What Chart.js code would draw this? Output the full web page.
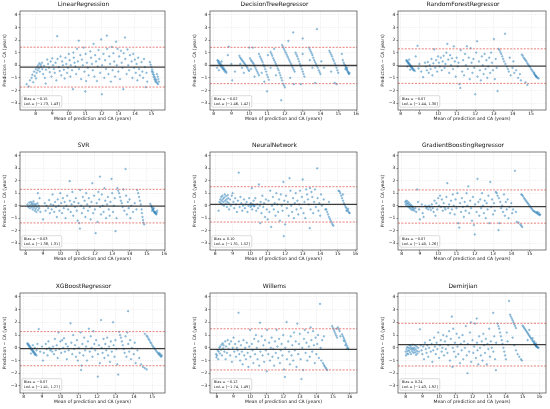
<!DOCTYPE html>
<html><head><meta charset="utf-8">
<script src="https://cdn.jsdelivr.net/npm/chart.js@4.4.0/dist/chart.umd.min.js"></script>
<style>
html,body{margin:0;padding:0;background:#fff;}
body{width:550px;height:409px;position:relative;overflow:hidden;}
canvas{position:absolute;}
</style></head><body>
<script>
// ---------- DATA ----------
const panelTitles = ["LinearRegression","DecisionTreeRegressor","RandomForestRegressor","SVR","NeuralNetwork","GradientBoostingRegressor","XGBoostRegressor","Willems","Demirjian"];
const biasValues = [-0.15,-0.02,-0.07,-0.03,0.10,-0.07,-0.07,-0.12,0.24];
const loaLower   = [-1.73,-1.46,-1.44,-1.38,-1.31,-1.40,-1.41,-1.74,-1.43];
const loaUpper   = [1.43,1.42,1.30,1.31,1.52,1.26,1.27,1.49,1.92];
const xMinValues = [7.05,7.8,7.85,7.67,7.71,7.8,7.8,7.58,7.54];
const xMaxValues = [15.82,16.05,15.8,16.05,16.1,15.9,15.7,16.45,16.4];
const yMinValue = -3.55, yMaxValue = 4.3;
const xAxisLabel = "Mean of prediction and CA (years)";
const yAxisLabel = "Prediction \u2212 CA (years)";

const ptsLinearRegression = [[7.45,-1.5],[7.58,-1.68],[7.65,-1.2],[7.75,-1.0],[7.8,-0.75],[7.85,-1.35],[7.9,-0.5],[7.95,-0.85],[8.0,-0.3],[8.02,-1.05],[8.05,-0.6],[8.1,-0.15],[8.12,-0.4],[8.15,0.0],[8.2,-0.25],[8.22,0.15],[8.25,-0.5],[8.3,0.05],[8.32,-0.1],[8.38,0.2],[8.4,-0.3],[8.45,-0.7],[8.5,-0.05],[8.55,-1.0],[8.6,-1.45],[8.62,-0.35],[8.7,0.45],[8.75,0.1],[8.8,-0.2],[8.85,-0.55],[8.9,0.3],[8.95,-0.9],[9.0,0.55],[9.05,0.0],[9.1,-0.3],[9.15,-0.6],[9.2,0.2],[9.25,-1.2],[9.3,2.3],[9.32,0.5],[9.4,-0.15],[9.45,-0.45],[9.5,0.7],[9.55,-0.8],[9.6,0.3],[9.65,0.0],[9.7,-0.35],[9.75,-1.05],[9.8,0.6],[9.85,0.1],[9.9,-0.6],[9.95,-0.2],[10.0,0.9],[10.05,0.4],[10.1,-0.9],[10.12,0.0],[10.2,-0.4],[10.25,-1.9],[10.28,1.0],[10.3,0.6],[10.35,0.2],[10.4,-0.1],[10.45,-0.7],[10.5,1.3],[10.55,0.3],[10.6,1.95],[10.62,-0.3],[10.7,0.8],[10.75,-1.1],[10.8,0.45],[10.85,0.0],[10.9,1.4],[10.95,-0.5],[11.0,-2.08],[11.02,0.9],[11.05,-1.25],[11.1,0.2],[11.15,-0.2],[11.2,-0.8],[11.3,1.1],[11.35,0.6],[11.4,0.1],[11.45,-0.4],[11.5,1.7],[11.55,-0.9],[11.6,0.8],[11.65,0.3],[11.7,-1.25],[11.75,-0.1],[11.8,1.2],[11.85,0.5],[11.9,-0.6],[11.96,2.05],[12.0,-2.3],[12.02,0.0],[12.1,0.9],[12.15,-1.0],[12.2,0.4],[12.25,-0.3],[12.3,2.35],[12.32,1.3],[12.4,-0.7],[12.45,0.7],[12.5,0.1],[12.55,-1.3],[12.6,1.45],[12.65,-0.4],[12.7,0.95],[12.75,0.3],[12.8,-0.9],[12.86,1.87],[12.9,0.0],[12.95,1.3],[13.0,-0.5],[13.05,0.7],[13.1,-1.1],[13.15,1.15],[13.2,0.2],[13.25,-0.2],[13.3,-1.9],[13.32,0.95],[13.4,2.2],[13.42,0.5],[13.5,-0.7],[13.55,1.25],[13.6,0.0],[13.65,-0.4],[13.7,0.8],[13.8,0.3],[13.85,-1.0],[13.9,0.9],[13.95,-0.2],[14.0,0.45],[14.05,-0.6],[14.1,0.1],[14.15,-1.2],[14.2,0.6],[14.25,-0.3],[14.3,-0.8],[14.4,0.25],[14.45,-0.5],[14.5,-1.0],[14.55,0.5],[14.6,-0.15],[14.66,-1.74],[14.7,-0.6],[14.75,-1.3],[14.9,0.25],[14.95,0.05],[15.0,-0.15],[15.02,-0.5],[15.05,-0.35],[15.08,-0.7],[15.1,-0.55],[15.13,-0.9],[15.15,-0.75],[15.18,-1.1],[15.2,-0.95],[15.23,-1.25],[15.25,-1.1],[15.28,-1.35],[15.3,-1.2],[15.33,-0.7],[15.35,-1.4],[15.38,-0.9],[15.4,-1.5],[15.42,-1.1],[15.45,-1.3]];

const ptsDecisionTree = [[8.2,-0.2],[8.22,0.4],[8.25,0.35],[8.27,0.2],[8.3,0.3],[8.32,0.1],[8.35,0.2],[8.37,0.0],[8.4,0.1],[8.42,-0.1],[8.45,0.0],[8.47,-0.2],[8.5,-0.1],[8.52,-0.3],[8.55,-0.2],[8.57,-0.35],[8.6,-0.3],[8.62,-0.5],[8.65,-0.4],[8.7,-0.5],[8.72,-0.6],[8.3,-0.4],[8.45,0.3],[8.8,0.8],[8.85,1.48],[9.05,-1.2],[9.0,0.1],[9.2,-0.5],[9.45,0.75],[9.5,0.6],[9.55,0.5],[9.6,0.4],[9.65,0.3],[9.7,0.2],[9.75,0.1],[9.8,0.0],[9.85,-0.1],[9.9,-0.2],[9.95,-0.35],[10.0,-0.45],[9.6,-0.2],[9.7,-0.6],[9.5,0.1],[10.0,1.4],[10.05,0.55],[10.1,0.4],[10.15,0.3],[10.2,0.2],[10.25,0.1],[10.3,-0.05],[10.35,-0.2],[10.4,-0.35],[10.45,-0.5],[10.5,-0.65],[10.55,-0.8],[10.2,1.4],[10.3,-0.9],[10.1,-0.3],[10.55,0.9],[10.6,0.7],[10.65,0.55],[10.7,0.4],[10.75,0.25],[10.8,0.05],[10.85,-0.1],[10.9,-0.3],[10.95,-0.5],[11.0,-0.75],[11.05,-0.95],[11.1,-1.15],[10.85,-1.3],[11.0,-2.07],[10.7,-0.6],[11.05,0.8],[11.2,-0.2],[11.2,1.05],[11.25,0.9],[11.3,0.75],[11.35,0.55],[11.4,0.4],[11.45,0.25],[11.5,0.1],[11.55,-0.05],[11.6,-0.25],[11.65,-0.4],[11.7,-0.6],[11.75,-0.8],[11.8,-1.0],[11.85,-1.2],[11.9,-1.45],[11.95,-1.6],[12.0,-1.75],[11.8,-2.78],[11.5,-0.8],[11.4,1.3],[11.85,1.6],[11.9,1.45],[11.95,1.3],[12.0,1.15],[12.05,1.0],[12.1,0.85],[12.15,0.7],[12.2,0.55],[12.25,0.4],[12.3,0.25],[12.35,0.1],[12.4,-0.05],[12.45,-0.2],[12.5,-0.35],[12.55,-0.5],[12.2,1.93],[12.47,2.6],[12.3,-1.0],[12.5,-1.5],[12.6,1.0],[12.65,0.85],[12.7,0.7],[12.75,0.5],[12.8,0.3],[12.85,0.1],[12.9,-0.1],[12.95,-0.3],[13.0,-0.5],[13.05,-0.7],[13.1,-0.9],[13.0,2.12],[12.9,-1.5],[13.0,0.9],[13.35,1.4],[13.4,1.25],[13.45,1.1],[13.5,0.95],[13.55,0.8],[13.6,0.6],[13.65,0.4],[13.7,0.25],[13.75,0.1],[13.8,-0.05],[13.85,-0.2],[13.9,-0.4],[13.95,-0.55],[14.0,-0.7],[13.4,0.4],[13.55,-0.2],[13.7,-1.4],[13.8,2.86],[14.05,0.3],[14.2,-0.2],[14.5,1.15],[14.55,1.0],[14.6,0.85],[14.65,0.7],[14.7,0.5],[14.75,0.35],[14.8,0.15],[14.85,0.0],[14.9,-0.2],[14.95,-0.4],[15.0,-0.6],[14.8,-1.4],[14.9,-1.5],[14.6,-0.5],[15.2,0.9],[15.25,0.4],[15.3,0.2],[15.35,0.05],[15.4,-0.05],[15.42,-0.15],[15.45,-0.25],[15.48,-0.35],[15.5,-0.4],[15.53,-0.5],[15.55,-0.55],[15.58,-0.65],[15.6,-0.7],[15.63,-0.6],[15.4,-0.3],[15.5,-0.2]];

const ptsRandomForest = [[8.3,0.4],[8.32,0.3],[8.35,0.35],[8.38,0.2],[8.4,0.25],[8.42,0.1],[8.45,0.15],[8.48,0.0],[8.5,0.05],[8.52,-0.1],[8.55,-0.05],[8.58,-0.2],[8.6,-0.15],[8.62,-0.3],[8.65,-0.25],[8.68,-0.4],[8.7,-0.35],[8.75,-0.45],[8.35,-0.1],[8.5,-0.35],[8.45,0.45],[8.8,0.7],[8.9,1.54],[8.95,-0.25],[9.0,0.1],[9.1,-0.5],[9.2,-0.95],[9.3,0.2],[9.35,-0.1],[9.4,-0.4],[9.45,0.25],[9.5,-0.6],[9.55,0.0],[9.6,-0.3],[9.65,0.5],[9.7,-0.8],[9.75,0.15],[9.8,1.25],[9.85,-0.2],[9.9,0.4],[9.95,-0.5],[10.0,0.7],[10.05,0.2],[10.1,-0.1],[10.15,0.6],[10.2,-0.4],[10.25,0.3],[10.3,0.75],[10.35,-0.2],[10.4,0.1],[10.45,1.0],[10.5,1.7],[10.55,0.45],[10.6,-0.6],[10.65,0.8],[10.7,0.0],[10.75,0.55],[10.8,-0.3],[10.85,1.5],[10.9,0.3],[10.95,-0.9],[11.0,0.6],[11.05,-0.1],[11.1,0.2],[11.15,-1.5],[11.2,-1.8],[11.22,1.2],[11.3,-0.5],[11.35,0.4],[11.4,-0.8],[11.45,0.9],[11.5,0.0],[11.55,1.5],[11.6,-0.3],[11.65,0.6],[11.7,-1.1],[11.75,1.35],[11.8,0.2],[11.85,-0.6],[11.9,0.5],[11.95,-0.2],[12.0,-2.3],[12.05,1.0],[12.1,1.9],[12.12,-0.9],[12.2,0.3],[12.25,-0.4],[12.3,-1.2],[12.35,0.7],[12.4,0.0],[12.45,-0.7],[12.5,0.9],[12.55,-0.3],[12.6,0.4],[12.65,-1.0],[12.7,-0.1],[12.75,0.6],[12.8,-0.6],[12.85,1.0],[12.9,0.2],[12.95,-0.4],[13.0,2.07],[13.05,-1.1],[13.1,0.5],[13.15,-0.2],[13.2,-2.05],[13.25,1.3],[13.3,1.2],[13.35,1.05],[13.4,0.9],[13.45,0.7],[13.5,0.5],[13.55,0.3],[13.6,2.5],[13.62,0.1],[13.7,-0.1],[13.75,-0.3],[13.8,-0.5],[13.85,0.6],[13.9,-0.8],[14.0,-0.2],[14.05,0.3],[14.1,-0.6],[14.2,-0.4],[14.3,-1.0],[14.4,-0.7],[14.45,-1.2],[14.5,0.85],[14.55,0.75],[14.6,0.6],[14.65,0.5],[14.7,0.4],[14.75,0.3],[14.8,0.15],[14.85,0.05],[14.9,-0.05],[14.95,-0.15],[15.0,-0.3],[15.05,-0.4],[15.1,-0.5],[15.15,-0.65],[15.2,-0.75],[15.25,-0.85],[15.3,-0.95],[15.4,-1.05],[15.17,-0.6],[15.23,-0.8],[15.28,-0.9],[15.35,-1.0],[14.8,-1.55],[14.7,-1.35]];

const ptsSVR = [[8.1,0.1],[8.15,-0.1],[8.2,0.25],[8.22,0.0],[8.25,-0.2],[8.3,0.3],[8.32,0.1],[8.35,-0.1],[8.38,0.2],[8.4,-0.3],[8.42,0.05],[8.45,0.35],[8.48,-0.15],[8.5,0.15],[8.52,-0.4],[8.55,0.0],[8.58,-0.25],[8.6,0.1],[8.62,-0.5],[8.65,-0.1],[8.68,0.2],[8.7,1.0],[8.72,-0.35],[8.75,0.0],[8.78,-0.2],[8.8,0.6],[8.85,-0.5],[9.0,-1.1],[9.1,0.2],[9.15,-0.4],[9.2,0.0],[9.3,-0.2],[9.35,0.45],[9.4,-0.6],[9.45,0.1],[9.5,-0.3],[9.55,0.9],[9.6,0.05],[9.65,-0.5],[9.7,0.3],[9.75,-0.1],[9.8,-0.9],[9.85,0.5],[9.9,0.0],[9.95,-0.4],[10.0,1.0],[10.05,0.2],[10.1,-0.6],[10.15,0.6],[10.2,-0.2],[10.25,0.3],[10.3,-1.0],[10.35,0.0],[10.4,0.8],[10.45,-0.3],[10.54,1.96],[10.55,0.4],[10.6,-0.5],[10.65,0.1],[10.7,1.1],[10.75,-0.8],[10.8,0.3],[10.85,-0.1],[10.9,0.6],[10.95,-0.4],[11.0,-1.2],[11.05,0.2],[11.1,-1.4],[11.13,-1.83],[11.15,1.25],[11.2,0.0],[11.25,-0.6],[11.3,0.7],[11.35,-0.2],[11.4,0.4],[11.45,-0.9],[11.5,1.0],[11.55,0.1],[11.6,-0.4],[11.65,0.6],[11.7,-0.1],[11.75,-1.1],[11.8,0.3],[11.85,1.8],[11.9,-0.6],[11.95,0.8],[12.0,-0.3],[12.04,-2.2],[12.1,0.2],[12.15,-1.3],[12.2,1.1],[12.25,0.5],[12.29,2.33],[12.3,-0.1],[12.35,-0.7],[12.4,0.9],[12.45,0.0],[12.5,-0.5],[12.55,1.4],[12.6,0.4],[12.65,-1.0],[12.7,0.1],[12.75,0.7],[12.8,-0.3],[12.85,-0.8],[12.9,0.3],[12.96,2.15],[13.0,1.0],[13.05,-0.5],[13.1,0.0],[13.15,0.6],[13.19,-2.04],[13.25,-1.0],[13.3,1.4],[13.35,1.2],[13.4,1.0],[13.45,0.7],[13.5,0.4],[13.55,0.2],[13.6,-0.1],[13.65,1.3],[13.7,-0.4],[13.77,2.94],[13.8,0.8],[13.85,-0.7],[13.9,0.3],[13.95,-0.2],[14.0,0.5],[14.05,-1.0],[14.1,0.0],[14.2,-0.5],[14.3,0.2],[14.4,-0.3],[14.45,1.25],[14.5,1.0],[14.55,0.7],[14.6,0.4],[14.65,0.1],[14.7,-0.3],[14.72,-0.6],[14.75,-0.9],[14.78,-1.15],[14.8,-1.35],[14.85,-1.5],[15.2,0.15],[15.25,0.0],[15.28,-0.1],[15.3,-0.15],[15.33,-0.25],[15.35,-0.3],[15.38,-0.35],[15.4,-0.45],[15.43,-0.5],[15.45,-0.55],[15.48,-0.6],[15.5,-0.5],[15.53,-0.65],[15.55,-0.7],[15.58,-0.55],[15.6,-0.4],[15.3,-0.4],[15.4,-0.2]];

const ptsNeuralNetwork = [[8.2,-0.4],[8.25,0.3],[8.3,0.5],[8.32,0.2],[8.35,0.7],[8.38,0.4],[8.4,0.1],[8.42,0.8],[8.45,0.55],[8.48,0.3],[8.5,0.0],[8.52,0.65],[8.55,0.9],[8.58,0.4],[8.6,0.15],[8.62,0.75],[8.65,0.5],[8.68,-0.1],[8.7,0.3],[8.72,0.85],[8.75,0.6],[8.78,0.2],[8.8,-0.3],[8.85,0.5],[8.9,0.0],[8.95,0.8],[9.0,1.0],[9.05,0.3],[9.1,-0.2],[9.15,0.6],[9.2,0.1],[9.25,-0.5],[9.3,0.4],[9.35,2.65],[9.4,-0.1],[9.45,0.7],[9.5,0.2],[9.55,-0.4],[9.6,0.0],[9.65,0.5],[9.7,-0.2],[9.75,0.1],[9.8,0.3],[9.85,-0.5],[9.9,0.0],[9.95,0.6],[10.0,0.1],[10.02,-0.1],[10.05,0.2],[10.08,0.0],[10.1,1.4],[10.12,-0.3],[10.15,0.1],[10.2,0.4],[10.22,-0.05],[10.25,0.0],[10.3,0.6],[10.35,-0.4],[10.4,0.1],[10.45,-0.2],[10.5,1.7],[10.55,0.0],[10.58,-1.4],[10.6,0.3],[10.65,-0.6],[10.7,0.8],[10.75,-0.1],[10.8,0.2],[10.85,-0.9],[10.9,0.5],[10.95,-0.3],[11.0,-1.1],[11.05,0.4],[11.1,-0.5],[11.15,1.2],[11.2,-1.7],[11.25,0.0],[11.3,0.7],[11.35,-0.3],[11.4,0.2],[11.45,-0.8],[11.5,1.0],[11.55,0.1],[11.6,-0.5],[11.65,0.5],[11.7,-1.2],[11.75,0.9],[11.8,0.0],[11.85,-0.4],[11.9,1.9],[11.92,-2.44],[11.95,0.4],[12.0,-1.5],[12.05,0.8],[12.1,-0.2],[12.15,0.3],[12.2,-0.8],[12.25,2.2],[12.3,1.2],[12.35,0.0],[12.4,-0.5],[12.45,0.6],[12.5,-1.0],[12.55,0.2],[12.6,1.0],[12.65,-0.3],[12.7,0.4],[12.75,-0.7],[12.8,0.1],[12.85,1.2],[12.9,-0.2],[12.95,0.7],[13.0,2.1],[13.05,-0.6],[13.1,0.3],[13.15,-1.0],[13.2,1.3],[13.25,0.9],[13.3,0.5],[13.35,0.1],[13.4,-1.8],[13.42,1.4],[13.45,-0.3],[13.5,1.1],[13.55,0.7],[13.6,-0.6],[13.65,0.3],[13.7,1.3],[13.75,-0.1],[13.83,2.99],[13.85,0.6],[13.9,-0.4],[13.95,0.2],[14.0,-0.8],[14.05,0.9],[14.1,0.0],[14.2,0.5],[14.3,-0.3],[14.35,-0.3],[14.4,-0.5],[14.45,-0.7],[14.5,-0.9],[14.55,-1.05],[14.6,-1.2],[14.65,-1.35],[14.7,-1.5],[14.75,-1.6],[14.5,0.3],[15.05,1.2],[15.1,1.15],[15.15,1.0],[15.2,0.8],[15.25,0.6],[15.3,0.4],[15.35,0.2],[15.4,0.05],[15.45,-0.1],[15.5,-0.2],[15.55,-0.35],[15.6,-0.45],[15.65,-0.55],[15.68,-0.6],[15.5,-0.4],[15.6,-0.25],[15.3,0.9]];

const ptsGradientBoosting = [[8.2,0.3],[8.22,0.1],[8.25,0.4],[8.28,0.2],[8.3,0.0],[8.32,0.35],[8.35,0.15],[8.38,-0.1],[8.4,0.25],[8.42,0.05],[8.45,-0.2],[8.48,0.1],[8.5,-0.05],[8.52,-0.3],[8.55,0.0],[8.58,-0.15],[8.6,-0.35],[8.62,-0.1],[8.65,-0.25],[8.7,-0.4],[8.75,-0.2],[8.8,-0.5],[8.85,1.3],[8.9,0.3],[8.95,-0.3],[9.0,-1.1],[9.1,0.1],[9.15,-0.6],[9.2,-0.9],[9.3,0.0],[9.35,-0.2],[9.4,-0.1],[9.45,-0.3],[9.5,0.0],[9.55,-0.15],[9.6,-0.35],[9.65,0.1],[9.7,-0.2],[9.75,-0.5],[9.8,0.4],[9.85,-0.8],[9.9,0.2],[9.95,-0.3],[10.0,0.6],[10.05,0.0],[10.1,0.8],[10.15,-0.1],[10.2,0.5],[10.25,-0.4],[10.3,0.2],[10.35,-0.15],[10.4,-0.3],[10.45,0.7],[10.5,1.8],[10.55,-0.2],[10.6,0.1],[10.65,-0.6],[10.7,0.4],[10.75,-0.3],[10.8,0.9],[10.85,0.0],[10.9,-0.7],[10.95,0.5],[11.0,-0.2],[11.05,1.0],[11.1,-1.4],[11.15,-1.75],[11.2,0.2],[11.25,-0.5],[11.3,0.6],[11.35,-0.1],[11.4,-0.9],[11.45,0.3],[11.5,-0.4],[11.55,1.0],[11.6,0.0],[11.65,1.55],[11.7,-0.6],[11.75,0.4],[11.8,-0.2],[11.85,-1.2],[11.9,0.7],[11.95,-1.55],[12.0,-2.3],[12.02,0.1],[12.1,-0.5],[12.15,2.15],[12.2,0.3],[12.25,-0.8],[12.3,0.5],[12.35,-0.2],[12.4,1.0],[12.45,0.0],[12.5,-0.6],[12.55,0.4],[12.6,-1.0],[12.65,0.2],[12.7,-0.3],[12.75,0.8],[12.8,-1.4],[12.85,1.9],[12.9,-0.1],[12.95,0.5],[13.0,-0.7],[13.05,0.2],[13.1,-0.4],[13.15,1.1],[13.2,1.0],[13.25,0.8],[13.3,-1.95],[13.32,0.6],[13.35,-1.4],[13.4,0.3],[13.45,-0.2],[13.5,0.0],[13.55,-0.5],[13.6,0.9],[13.65,-0.8],[13.7,0.3],[13.75,-0.3],[13.8,0.5],[13.85,-1.0],[13.9,-0.1],[14.0,0.2],[14.05,-0.6],[14.1,-0.3],[14.2,2.8],[14.25,-0.5],[14.3,-1.3],[14.4,-1.35],[14.5,-1.5],[14.55,-1.6],[14.6,-1.7],[14.55,0.9],[14.6,0.85],[14.65,0.75],[14.7,0.6],[14.75,0.5],[14.8,0.4],[14.85,0.3],[14.9,0.2],[14.95,0.1],[15.0,0.0],[15.05,-0.1],[15.1,-0.2],[15.15,-0.3],[15.2,-0.4],[15.25,-0.45],[15.3,-0.5],[15.35,-0.55],[15.4,-0.6],[15.45,-0.65],[15.5,-0.7],[15.55,-0.75],[15.42,-0.5],[15.5,-0.55],[15.58,-0.7]];

const ptsXGBoost = [[8.2,0.35],[8.22,0.25],[8.25,0.3],[8.28,0.15],[8.3,0.2],[8.32,0.05],[8.35,0.1],[8.38,-0.05],[8.4,0.0],[8.42,-0.15],[8.45,-0.1],[8.48,-0.25],[8.5,-0.2],[8.52,-0.35],[8.55,-0.3],[8.58,-0.45],[8.6,-0.4],[8.62,-0.55],[8.65,-0.5],[8.7,-0.6],[8.5,0.2],[8.4,-0.45],[8.6,0.0],[8.7,-0.2],[8.75,0.3],[8.82,1.47],[8.9,-0.3],[9.0,0.1],[9.05,-1.0],[9.1,-0.4],[9.2,0.3],[9.25,-0.1],[9.3,-0.6],[9.35,0.5],[9.4,0.0],[9.45,-0.2],[9.5,-0.1],[9.55,-0.3],[9.6,0.1],[9.65,-0.5],[9.7,0.7],[9.75,-0.2],[9.8,0.2],[9.85,-0.8],[9.9,1.2],[9.95,-0.1],[10.0,0.5],[10.05,-0.4],[10.1,0.6],[10.15,0.0],[10.2,0.75],[10.25,-0.3],[10.3,0.3],[10.35,-0.9],[10.4,0.1],[10.45,-0.2],[10.55,1.92],[10.6,0.4],[10.65,-0.5],[10.7,1.0],[10.75,-0.1],[10.8,0.2],[10.85,-0.7],[10.9,0.6],[10.95,-1.0],[11.0,0.0],[11.05,-0.4],[11.1,1.2],[11.13,-1.74],[11.15,-1.4],[11.2,0.3],[11.25,-0.6],[11.3,0.8],[11.35,-0.2],[11.4,0.1],[11.45,-1.0],[11.5,0.5],[11.55,1.5],[11.6,-0.3],[11.65,0.9],[11.7,0.0],[11.75,-0.7],[11.8,1.3],[11.85,0.3],[11.9,-0.2],[11.95,0.6],[12.04,-2.26],[12.05,-0.5],[12.1,0.2],[12.15,-1.2],[12.22,2.18],[12.25,0.0],[12.3,-0.4],[12.35,0.7],[12.4,-0.8],[12.45,0.3],[12.5,-0.2],[12.55,0.8],[12.6,-0.6],[12.65,0.1],[12.7,-1.1],[12.75,0.5],[12.8,-0.3],[12.87,2.0],[12.9,0.2],[12.95,-0.7],[13.0,0.6],[13.05,-0.1],[13.1,-1.3],[13.15,-2.1],[13.2,1.25],[13.25,1.0],[13.3,0.8],[13.35,0.5],[13.4,0.2],[13.45,-0.1],[13.5,-0.4],[13.55,0.9],[13.6,-0.7],[13.65,1.2],[13.69,2.87],[13.7,0.3],[13.75,-0.3],[13.8,0.6],[13.85,-0.9],[13.9,0.0],[14.0,-0.5],[14.05,0.4],[14.1,-1.2],[14.2,-0.2],[14.3,-0.8],[14.4,-1.3],[14.5,-1.5],[14.6,-1.6],[14.7,-1.7],[14.6,1.1],[14.7,0.95],[14.75,0.85],[14.8,0.7],[14.85,0.6],[14.9,0.45],[14.95,0.35],[15.0,0.2],[15.05,0.1],[15.1,0.0],[15.15,-0.1],[15.2,-0.2],[15.25,-0.3],[15.3,-0.4],[15.35,-0.5],[15.4,-0.55],[15.45,-0.65],[15.5,-0.7],[15.38,-0.4],[15.45,-0.5],[15.52,-0.6]];

const ptsWillems = [[7.95,-0.5],[7.97,-0.75],[8.0,-0.6],[8.05,-0.2],[8.08,-0.9],[8.1,-0.3],[8.15,0.0],[8.18,-0.45],[8.2,0.1],[8.25,-0.15],[8.28,0.25],[8.3,-0.6],[8.35,0.35],[8.38,-0.05],[8.4,0.2],[8.45,-0.3],[8.5,0.5],[8.52,-0.9],[8.55,0.1],[8.6,-0.4],[8.65,0.6],[8.7,-0.1],[8.75,0.3],[8.8,-0.6],[8.85,0.5],[8.9,-1.1],[8.95,0.0],[9.0,0.8],[9.05,-0.3],[9.1,0.3],[9.15,-0.7],[9.2,0.0],[9.25,-0.2],[9.3,2.75],[9.32,0.5],[9.35,-0.5],[9.4,-1.0],[9.45,0.2],[9.5,-0.3],[9.55,-1.3],[9.6,0.6],[9.65,-0.6],[9.7,0.0],[9.75,-0.9],[9.8,0.4],[9.85,-0.4],[9.9,-1.5],[9.95,0.1],[10.0,1.4],[10.02,-0.7],[10.1,0.3],[10.15,-0.2],[10.2,-1.2],[10.25,0.7],[10.3,-0.5],[10.35,1.0],[10.4,0.0],[10.45,-0.9],[10.5,0.5],[10.55,-1.4],[10.6,1.97],[10.62,-0.3],[10.7,0.9],[10.75,-0.6],[10.8,0.2],[10.85,-1.1],[10.9,0.6],[10.95,-0.2],[11.0,-1.85],[11.02,1.4],[11.1,-0.5],[11.15,0.4],[11.2,-1.0],[11.25,0.0],[11.3,0.8],[11.35,-0.7],[11.4,-0.1],[11.45,-1.4],[11.5,0.5],[11.55,-0.4],[11.6,1.4],[11.65,0.1],[11.7,-0.8],[11.75,0.7],[11.8,-1.2],[11.85,-0.2],[11.9,0.3],[11.95,-0.6],[12.0,1.0],[12.05,-1.7],[12.1,-2.29],[12.12,0.0],[12.2,2.02],[12.22,-0.9],[12.3,0.5],[12.35,-0.3],[12.4,-1.3],[12.45,0.9],[12.5,-0.6],[12.55,0.2],[12.6,-1.0],[12.65,1.2],[12.7,-0.2],[12.75,0.5],[12.8,-1.5],[12.85,1.9],[12.9,-0.5],[12.95,0.3],[13.0,1.1],[13.05,-0.9],[13.1,-2.45],[13.15,0.0],[13.2,-1.75],[13.25,0.7],[13.3,1.4],[13.35,-0.4],[13.4,0.4],[13.45,-1.0],[13.5,1.2],[13.55,0.1],[13.6,-0.7],[13.65,1.6],[13.7,0.6],[13.75,-0.3],[13.8,1.3],[13.85,0.2],[13.9,-1.2],[13.95,0.8],[14.0,-0.5],[14.05,0.3],[14.1,1.0],[14.15,-0.8],[14.22,3.45],[14.25,0.0],[14.3,-1.0],[14.35,0.6],[14.4,-1.2],[14.45,-1.35],[14.5,-1.45],[14.55,-1.55],[14.6,-1.65],[14.65,-1.75],[14.45,0.9],[14.95,1.7],[15.0,1.55],[15.05,1.4],[15.1,1.25],[15.15,1.1],[15.2,0.95],[15.25,0.8],[15.3,1.6],[15.35,1.45],[15.4,1.3],[15.45,0.9],[15.2,1.5],[15.55,1.05],[15.6,0.9],[15.65,0.75],[15.7,0.6],[15.75,0.45],[15.8,0.3],[15.85,0.15],[15.9,0.0],[15.93,-0.1],[15.75,0.2],[15.85,-0.05],[15.65,0.55]];

const ptsDemirjian = [[8.0,-0.3],[8.02,-0.6],[8.05,-0.1],[8.08,-0.45],[8.1,0.05],[8.12,-0.25],[8.15,-0.5],[8.18,0.0],[8.2,-0.2],[8.22,0.2],[8.25,-0.35],[8.28,-0.05],[8.3,0.15],[8.32,-0.5],[8.35,-0.15],[8.38,0.0],[8.4,-0.3],[8.42,0.25],[8.45,-0.1],[8.48,-0.4],[8.5,0.0],[8.52,-0.2],[8.55,0.2],[8.58,-0.35],[8.6,-0.1],[8.62,-0.55],[8.65,0.1],[8.68,-0.25],[8.7,-0.45],[8.75,0.0],[8.8,-0.3],[8.85,1.45],[8.9,0.2],[8.95,-0.2],[9.0,-0.5],[9.05,0.1],[9.1,-0.9],[9.15,0.4],[9.2,-0.1],[9.25,-0.4],[9.3,0.2],[9.35,-0.7],[9.4,0.0],[9.45,0.6],[9.5,-0.3],[9.55,0.3],[9.6,-1.1],[9.65,-0.2],[9.7,0.8],[9.75,0.1],[9.8,-0.5],[9.85,0.4],[9.9,-0.1],[9.95,1.2],[10.0,-0.8],[10.05,0.2],[10.1,0.6],[10.15,-0.3],[10.2,0.0],[10.25,1.0],[10.3,-0.6],[10.35,0.5],[10.4,-0.1],[10.45,0.9],[10.5,-0.4],[10.55,0.2],[10.6,1.3],[10.65,-1.0],[10.7,0.7],[10.76,2.45],[10.8,-1.5],[10.82,0.0],[10.85,1.5],[10.9,-0.3],[10.95,0.4],[11.0,-0.7],[11.05,1.1],[11.1,0.1],[11.15,-0.5],[11.2,0.8],[11.25,-1.2],[11.3,0.3],[11.35,-0.2],[11.4,1.0],[11.45,-0.9],[11.5,0.5],[11.55,0.0],[11.6,1.7],[11.65,-0.6],[11.7,-2.0],[11.72,0.3],[11.8,-0.3],[11.85,1.2],[11.9,2.0],[11.92,-1.1],[12.0,0.6],[12.05,-0.4],[12.1,0.1],[12.15,1.9],[12.2,-0.8],[12.25,2.3],[12.27,0.4],[12.3,-0.2],[12.35,-1.3],[12.4,0.9],[12.45,0.0],[12.5,-0.6],[12.55,0.5],[12.6,-1.0],[12.65,1.1],[12.7,0.2],[12.75,-0.4],[12.8,0.7],[12.85,-1.3],[12.9,0.3],[12.95,-0.1],[13.0,1.5],[13.05,-0.7],[13.1,0.5],[13.15,0.0],[13.24,2.74],[13.25,-0.3],[13.3,0.9],[13.35,-0.9],[13.4,-1.76],[13.42,0.4],[13.5,1.9],[13.55,1.7],[13.6,1.5],[13.65,1.2],[13.7,0.9],[13.75,0.6],[13.8,0.3],[13.85,0.0],[13.9,-0.3],[13.95,-0.6],[14.0,-0.9],[14.05,1.2],[14.1,0.5],[14.19,3.68],[14.25,2.6],[14.3,2.45],[14.35,2.3],[14.4,2.15],[14.45,2.0],[14.5,1.85],[14.55,1.7],[14.6,1.55],[14.4,0.8],[14.5,0.2],[14.6,-0.2],[14.7,-0.5],[14.8,-0.7],[14.9,-0.9],[14.95,-1.0],[15.0,1.75],[15.05,1.65],[15.1,1.55],[15.15,1.45],[15.2,1.35],[15.25,1.25],[15.3,1.15],[15.35,1.05],[15.4,0.95],[15.45,0.85],[15.5,0.75],[15.55,0.65],[15.6,0.55],[15.65,0.45],[15.7,0.35],[15.72,0.3],[15.75,0.25],[15.78,0.2],[15.8,0.15],[15.82,0.12],[15.85,0.1],[15.88,0.05],[15.9,0.02],[15.95,0.0],[15.7,0.5],[15.8,0.35],[15.6,0.75],[15.4,1.4],[15.3,0.6]];

const panelPoints = [ptsLinearRegression, ptsDecisionTree, ptsRandomForest, ptsSVR, ptsNeuralNetwork, ptsGradientBoosting, ptsXGBoost, ptsWillems, ptsDemirjian];

// ---------- LAYOUT ----------
const colBounds = [[20,165],[210,357],[398,546]];
const rowBounds = [[11,110],[152,250],[293,393]];
const TITLE_H = 12, XAXIS_H = 12, YAXIS_W = 18, RIGHT_PAD = 3;
const FONT = "'DejaVu Sans', sans-serif";

function fmt(v){ const s = Math.abs(v).toFixed(2); return (v < 0 ? '\u2212' : '') + s; }

const framePlugin = {
  id: 'frameAndBox',
  afterDatasetsDraw(chart) {
    const {ctx, chartArea: a} = chart;
    const i = chart.options.plugins.frameAndBox.index;
    ctx.save();
    const l1 = 'Bias = ' + fmt(biasValues[i]);
    const l2 = 'LoA = [' + fmt(loaLower[i]) + ', ' + fmt(loaUpper[i]) + ']';
    ctx.font = '3.6px ' + FONT;
    const w = Math.max(ctx.measureText(l1).width, ctx.measureText(l2).width) + 4;
    const h = 11.5;
    const bx = a.left + 1.8, by = a.bottom - 2.8 - h;
    ctx.fillStyle = 'rgba(255,255,255,0.85)';
    ctx.strokeStyle = '#bbbbbb';
    ctx.lineWidth = 0.5;
    ctx.beginPath();
    if (ctx.roundRect) ctx.roundRect(bx, by, w, h, 1.2); else ctx.rect(bx, by, w, h);
    ctx.fill(); ctx.stroke();
    ctx.fillStyle = '#222';
    ctx.textBaseline = 'middle';
    ctx.textAlign = 'left';
    ctx.fillText(l1, bx + 2, by + 3.3);
    ctx.fillText(l2, bx + 2, by + 8.2);
    ctx.strokeStyle = '#444';
    ctx.lineWidth = 0.7;
    ctx.strokeRect(a.left, a.top, a.right - a.left, a.bottom - a.top);
    ctx.restore();
  }
};

for (let i = 0; i < 9; i++) {
  const c = i % 3, r = Math.floor(i / 3);
  const [L, R] = colBounds[c], [T, B] = rowBounds[r];
  const cv = document.createElement('canvas');
  const cw = (R - L) + YAXIS_W + RIGHT_PAD;
  const ch = (B - T) + TITLE_H + XAXIS_H;
  cv.width = cw; cv.height = ch;
  cv.style.left = (L - YAXIS_W) + 'px';
  cv.style.top = (T - TITLE_H) + 'px';
  cv.style.width = cw + 'px'; cv.style.height = ch + 'px';
  document.body.appendChild(cv);

  const xmin = xMinValues[i], xmax = xMaxValues[i];
  const hline = (v) => [{x: xmin, y: v}, {x: xmax, y: v}];
  const gridOpts = {color: 'rgba(0,0,0,0.13)', lineWidth: 0.5, drawTicks: true, tickLength: 1.5, tickColor: '#444', tickWidth: 0.6};

  new Chart(cv, {
    type: 'scatter',
    data: {
      datasets: [
        {type: 'line', data: hline(biasValues[i]), borderColor: 'rgba(40,40,40,0.9)', borderWidth: 1.3, pointRadius: 0, fill: false},
        {type: 'line', data: hline(loaUpper[i]), borderColor: '#e0605a', borderWidth: 0.8, borderDash: [2, 1.4], pointRadius: 0, fill: false},
        {type: 'line', data: hline(loaLower[i]), borderColor: '#e0605a', borderWidth: 0.8, borderDash: [2, 1.4], pointRadius: 0, fill: false},
        {data: panelPoints[i].map(p => ({x: p[0], y: p[1]})), pointRadius: 0.85, pointHoverRadius: 0.85,
         backgroundColor: 'rgba(31,119,180,0.4)', borderColor: 'rgba(31,119,180,0.8)', borderWidth: 0.35}
      ]
    },
    options: {
      responsive: false, animation: false, events: [],
      layout: {padding: {top: 0, right: RIGHT_PAD, bottom: 0, left: 0}},
      plugins: {
        legend: {display: false}, tooltip: {enabled: false},
        title: {display: true, text: panelTitles[i], color: '#111',
                font: {family: FONT, size: 6, lineHeight: 1.2, weight: 'normal'},
                padding: {top: 2, bottom: 2.8}},
        frameAndBox: {index: i}
      },
      scales: {
        x: {
          type: 'linear', min: xmin, max: xmax,
          ticks: {stepSize: 1, includeBounds: false, autoSkip: false, maxRotation: 0, padding: 0,
                  color: '#222', font: {family: FONT, size: 4.5}},
          grid: gridOpts,
          border: {display: false, dash: [1.2, 1.2]},
          title: {display: true, text: xAxisLabel, color: '#222', padding: 0, font: {family: FONT, size: 4.5, lineHeight: 1.2}},
          afterFit(s) { s.height = XAXIS_H; }
        },
        y: {
          type: 'linear', min: yMinValue, max: yMaxValue,
          ticks: {stepSize: 1, includeBounds: false, autoSkip: false, padding: 1.2,
                  color: '#222', font: {family: FONT, size: 4.5},
                  callback: (v) => (v < 0 ? '\u2212' + Math.abs(v) : String(v))},
          grid: gridOpts,
          border: {display: false, dash: [1.2, 1.2]},
          title: {display: true, text: yAxisLabel, color: '#222', padding: 0, font: {family: FONT, size: 4.5, lineHeight: 1.2}},
          afterFit(s) { s.width = YAXIS_W; }
        }
      }
    },
    plugins: [framePlugin]
  });
}
</script>
</body></html>
